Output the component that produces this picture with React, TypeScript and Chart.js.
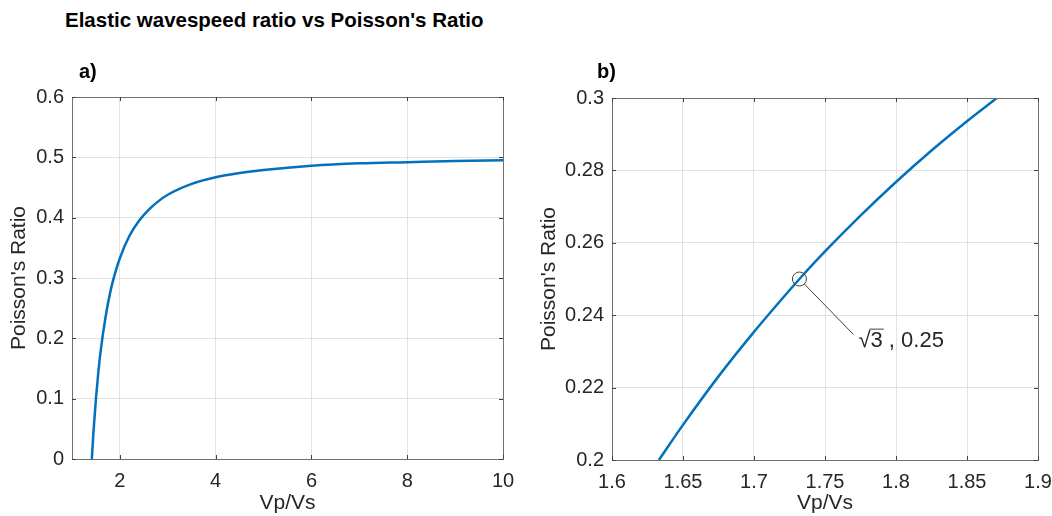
import React, { useEffect, useRef } from "react";
import { Chart, registerables } from "chart.js";

Chart.register(...registerables);

// ---- Data ----
const vpvsA = [1.414, 1.45, 1.5, 1.55, 1.6, 1.7, 1.8, 1.9, 2.0, 2.2, 2.4, 2.6, 2.8, 3.0, 3.5, 4.0, 4.5, 5.0, 6.0, 7.0, 8.0, 9.0, 10.0];
const nuA = [0.0, 0.047, 0.1, 0.144, 0.18, 0.235, 0.277, 0.308, 0.333, 0.37, 0.395, 0.413, 0.427, 0.438, 0.456, 0.467, 0.474, 0.479, 0.486, 0.49, 0.492, 0.494, 0.495];

const vpvsB = [1.633, 1.65, 1.675, 1.7, 1.725, 1.732, 1.75, 1.775, 1.8, 1.825, 1.85, 1.871];
const nuB = [0.2, 0.2097, 0.2231, 0.2354, 0.2469, 0.25, 0.2576, 0.2675, 0.2768, 0.2855, 0.2936, 0.3];

const xTicksA = [2, 4, 6, 8, 10];
const yTicksA = [0, 0.1, 0.2, 0.3, 0.4, 0.5, 0.6];
const xTicksB = [1.6, 1.65, 1.7, 1.75, 1.8, 1.85, 1.9];
const xTickLabelsB = ["1.6", "1.65", "1.7", "1.75", "1.8", "1.85", "1.9"];
const yTicksB = [0.2, 0.22, 0.24, 0.26, 0.28, 0.3];
const yTickLabelsB = ["0.2", "0.22", "0.24", "0.26", "0.28", "0.3"];

const markPoint = { x: 1.732, y: 0.25 };
const labelPoint = { x: 1.77, y: 0.2347 };
const markLabelRoot = "√";
const markLabelRest = "3 , 0.25";

const FONT = "'Liberation Sans', Arial, Helvetica, sans-serif";
const TEXT = "#262626";
const GRID = "#e2e2e2";
const BOX = "#707070";
const LINE = "#0072BD";

const boxPlugin = {
  id: "matlabBox",
  afterDraw(chart: any) {
    const { ctx, chartArea: a, scales } = chart;
    ctx.save();
    ctx.strokeStyle = BOX;
    ctx.lineWidth = 1;
    ctx.strokeRect(Math.round(a.left) + 0.5, Math.round(a.top) + 0.5, Math.round(a.right - a.left), Math.round(a.bottom - a.top));
    ctx.strokeStyle = "#404040";
    const L = 4;
    ctx.beginPath();
    scales.x.ticks.forEach((t: any) => {
      const px = Math.round(scales.x.getPixelForValue(t.value)) + 0.5;
      ctx.moveTo(px, a.bottom);
      ctx.lineTo(px, a.bottom - L);
      ctx.moveTo(px, a.top);
      ctx.lineTo(px, a.top + L);
    });
    scales.y.ticks.forEach((t: any) => {
      const py = Math.round(scales.y.getPixelForValue(t.value)) + 0.5;
      ctx.moveTo(a.left, py);
      ctx.lineTo(a.left + L, py);
      ctx.moveTo(a.right, py);
      ctx.lineTo(a.right - L, py);
    });
    ctx.stroke();
    ctx.restore();
  },
};

const annotPlugin = {
  id: "annot",
  afterDatasetsDraw(chart: any) {
    const { ctx, scales } = chart;
    const cx = scales.x.getPixelForValue(markPoint.x);
    const cy = scales.y.getPixelForValue(markPoint.y);
    const ex = scales.x.getPixelForValue(labelPoint.x);
    const ey = scales.y.getPixelForValue(labelPoint.y);
    const r = 7;
    ctx.save();
    ctx.strokeStyle = "#404040";
    ctx.lineWidth = 1;
    ctx.beginPath();
    ctx.arc(cx, cy, r, 0, Math.PI * 2);
    ctx.stroke();
    const ang = Math.atan2(ey - cy, ex - cx);
    ctx.beginPath();
    ctx.moveTo(cx + r * Math.cos(ang), cy + r * Math.sin(ang));
    ctx.lineTo(ex, ey);
    ctx.stroke();
    const fs = 22;
    ctx.font = `${fs}px ${FONT}`;
    ctx.fillStyle = TEXT;
    ctx.textBaseline = "alphabetic";
    const tx = ex + 5;
    const ty = ey + 13;
    ctx.fillText(markLabelRoot, tx, ty);
    const w1 = ctx.measureText(markLabelRoot).width;
    ctx.fillText(markLabelRest, tx + w1, ty);
    const w3 = ctx.measureText("3").width;
    ctx.beginPath();
    ctx.moveTo(tx + w1 - 1, ty - fs * 0.83);
    ctx.lineTo(tx + w1 + w3 + 1, ty - fs * 0.83);
    ctx.stroke();
    ctx.restore();
  },
};

function makeConfig(
  xs: number[], ys: number[],
  xMin: number, xMax: number, yMin: number, yMax: number,
  xTicks: number[], yTicks: number[],
  xLabels: string[] | null, yLabels: string[] | null,
  lay: { pl: number; pr: number; pt: number; pb: number; yw: number; xh: number },
  extraPlugins: any[]
): any {
  return {
    type: "line",
    data: {
      datasets: [
        {
          data: xs.map((x, i) => ({ x, y: ys[i] })),
          borderColor: LINE,
          borderWidth: 2.5,
          pointRadius: 0,
          fill: false,
          cubicInterpolationMode: "monotone",
        },
      ],
    },
    options: {
      responsive: false,
      animation: false,
      layout: { padding: { left: lay.pl, right: lay.pr, top: lay.pt, bottom: lay.pb } },
      plugins: { legend: { display: false }, tooltip: { enabled: false }, title: { display: false } },
      scales: {
        x: {
          type: "linear",
          min: xMin,
          max: xMax,
          afterBuildTicks: (s: any) => { s.ticks = xTicks.map((v) => ({ value: v })); },
          afterFit: (s: any) => { s.height = lay.xh; s.paddingLeft = 0; s.paddingRight = 0; },
          ticks: {
            autoSkip: false,
            maxRotation: 0,
            padding: 10,
            color: TEXT,
            font: { family: FONT, size: 20 },
            callback: (v: any, i: number) => (xLabels ? xLabels[i] : String(v)),
          },
          grid: { color: GRID, drawTicks: false, lineWidth: 1 },
          border: { display: false },
          title: { display: true, text: "Vp/Vs", color: TEXT, font: { family: FONT, size: 21 }, padding: 0 },
        },
        y: {
          type: "linear",
          min: yMin,
          max: yMax,
          afterBuildTicks: (s: any) => { s.ticks = yTicks.map((v) => ({ value: v })); },
          afterFit: (s: any) => { s.width = lay.yw; s.paddingTop = 0; s.paddingBottom = 0; },
          ticks: {
            autoSkip: false,
            padding: 8,
            color: TEXT,
            font: { family: FONT, size: 20 },
            callback: (v: any, i: number) => (yLabels ? yLabels[i] : String(v)),
          },
          grid: { color: GRID, drawTicks: false, lineWidth: 1 },
          border: { display: false },
          title: { display: true, text: "Poisson's Ratio", color: TEXT, font: { family: FONT, size: 21 }, padding: 0 },
        },
      },
    },
    plugins: [boxPlugin, ...extraPlugins],
  };
}

export default function App() {
  const refA = useRef<HTMLCanvasElement>(null);
  const refB = useRef<HTMLCanvasElement>(null);

  useEffect(() => {
    const a = new Chart(
      refA.current!,
      makeConfig(vpvsA, nuA, 1, 10, 0, 0.6, xTicksA, yTicksA, null, null,
        { pl: 7, pr: 17, pt: 57, pb: 0, yw: 65, xh: 57 }, [])
    );
    const b = new Chart(
      refB.current!,
      makeConfig(vpvsB, nuB, 1.6, 1.9, 0.2, 0.3, xTicksB, yTicksB, xTickLabelsB, yTickLabelsB,
        { pl: 17, pr: 14, pt: 58, pb: 0, yw: 75, xh: 56 }, [annotPlugin])
    );
    return () => { a.destroy(); b.destroy(); };
  }, []);

  const txt: React.CSSProperties = {
    position: "absolute",
    fontFamily: FONT,
    fontWeight: "bold",
    color: "#000",
    whiteSpace: "nowrap",
    lineHeight: "24px",
  };

  return (
    <div style={{ position: "absolute", left: 0, top: 0, width: 1052, height: 516, background: "#fff", overflow: "hidden" }}>
      <div style={{ ...txt, left: 65, top: 8, fontSize: 20.5 }}>Elastic wavespeed ratio vs Poisson's Ratio</div>
      <canvas ref={refA} width={520} height={476} style={{ position: "absolute", left: 0, top: 40 }} />
      <canvas ref={refB} width={532} height={476} style={{ position: "absolute", left: 520, top: 40 }} />
      <div style={{ ...txt, left: 79, top: 59, fontSize: 20 }}>a)</div>
      <div style={{ ...txt, left: 597, top: 59, fontSize: 20 }}>b)</div>
    </div>
  );
}
